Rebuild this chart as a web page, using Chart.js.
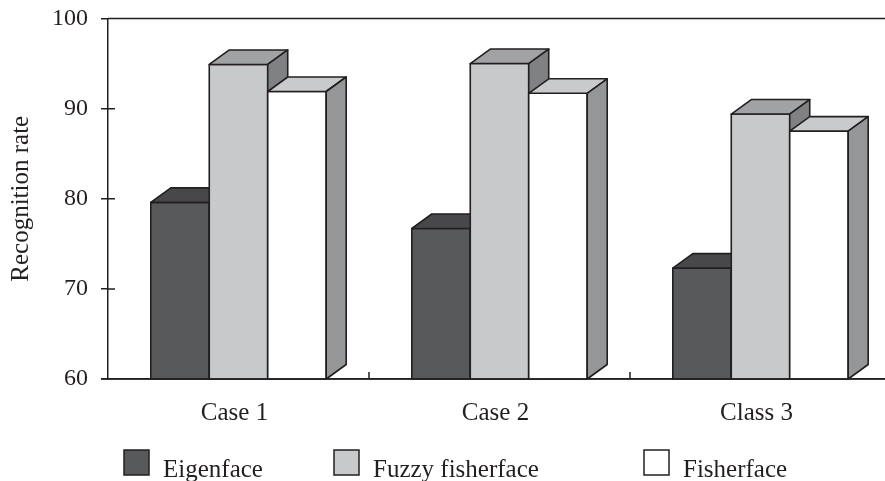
<!DOCTYPE html>
<html>
<head>
<meta charset="utf-8">
<script src="https://cdn.jsdelivr.net/npm/chart.js@4/dist/chart.umd.min.js"></script>
<style>
  html, body { margin: 0; padding: 0; background: #ffffff; overflow: hidden; }
  #wrap { position: absolute; left: 0; top: 0; width: 900px; height: 481px; }
</style>
</head>
<body>
<div id="wrap"><canvas id="c" width="900" height="481"></canvas></div>
<script>
// Categories, series and axis ticks
const categories = ['Case 1', 'Case 2', 'Class 3'];
const seriesNames = ['Eigenface', 'Fuzzy fisherface', 'Fisherface'];
const eigenface = [79.6, 76.7, 72.3];
const fuzzyFisherface = [94.9, 95.0, 89.4];
const fisherface = [91.9, 91.7, 87.5];
const yTicks = [60, 70, 80, 90, 100];

const INK = '#231f20';
const FONT = '"Liberation Serif", "Times New Roman", serif';

// Face shades for each series: front, top, side
const shades = [
  { front: '#58595b', top: '#48484a', side: '#3c3c3e' },
  { front: '#c8c9cb', top: '#a1a2a4', side: '#808183' },
  { front: '#ffffff', top: '#c9cacc', side: '#959698' }
];

// Depth of the extruded boxes
const DEPTH_X = 20;
const DEPTH_Y = 14.5;

function poly(ctx, pts, fill) {
  ctx.beginPath();
  ctx.moveTo(pts[0][0], pts[0][1]);
  for (let i = 1; i < pts.length; i++) ctx.lineTo(pts[i][0], pts[i][1]);
  ctx.closePath();
  ctx.fillStyle = fill;
  ctx.fill();
  ctx.stroke();
}

// Boxes drawn series by series, left to right, so each bar hides the
// side of the one before it. Geometry comes from the bar elements.
const boxes = {
  id: 'boxes',
  afterDatasetsDraw(chart) {
    const ctx = chart.ctx;
    const floor = chart.chartArea.bottom;
    ctx.save();
    ctx.strokeStyle = INK;
    ctx.lineWidth = 1.6;
    ctx.lineJoin = 'round';
    chart.data.datasets.forEach((ds, di) => {
      const shade = shades[di];
      chart.getDatasetMeta(di).data.forEach(el => {
        const p = el.getProps(['x', 'y', 'base', 'width'], true);
        const l = p.x - p.width / 2, r = p.x + p.width / 2;
        const b = Math.min(p.base, floor);
        poly(ctx, [[l, p.y], [r, p.y], [r, b], [l, b]], shade.front);
        poly(ctx, [[l, p.y], [r, p.y], [r + DEPTH_X, p.y - DEPTH_Y], [l + DEPTH_X, p.y - DEPTH_Y]], shade.top);
        poly(ctx, [[r, p.y], [r + DEPTH_X, p.y - DEPTH_Y], [r + DEPTH_X, b - DEPTH_Y], [r, b]], shade.side);
      });
    });
    ctx.restore();
  }
};

// Frame details: top rule, inner half of the value ticks, category dividers, legend
const frame = {
  id: 'frame',
  afterDraw(chart) {
    const ctx = chart.ctx;
    const area = chart.chartArea;
    const ys = chart.scales.y, xs = chart.scales.x;
    ctx.save();
    ctx.strokeStyle = INK;
    ctx.lineWidth = 1.5;
    ctx.beginPath();
    ctx.moveTo(area.left, area.top);
    ctx.lineTo(area.right, area.top);
    ctx.moveTo(area.left - 7, area.bottom);
    ctx.lineTo(area.right, area.bottom);
    ys.ticks.forEach(t => {
      const py = ys.getPixelForValue(t.value);
      ctx.moveTo(area.left, py);
      ctx.lineTo(area.left + 7, py);
    });
    for (let i = 0; i < categories.length - 1; i++) {
      const px = (xs.getPixelForValue(i) + xs.getPixelForValue(i + 1)) / 2;
      ctx.moveTo(px, area.bottom);
      ctx.lineTo(px, area.bottom - 7);
    }
    ctx.stroke();

    // legend
    const legendX = [124, 334, 644];
    const boxTop = 450, boxSize = 25;
    ctx.font = '25px ' + FONT;
    ctx.textBaseline = 'alphabetic';
    ctx.textAlign = 'left';
    chart.data.datasets.forEach((ds, i) => {
      const bx = legendX[i];
      ctx.fillStyle = shades[i].front;
      ctx.fillRect(bx, boxTop, boxSize, boxSize);
      ctx.lineWidth = 1.5;
      ctx.strokeRect(bx, boxTop, boxSize, boxSize);
      ctx.fillStyle = INK;
      ctx.fillText(ds.label, bx + 39, boxTop + 27);
    });
    ctx.restore();
  }
};

const seriesValues = [eigenface, fuzzyFisherface, fisherface];

new Chart(document.getElementById('c'), {
  type: 'bar',
  data: {
    labels: categories,
    datasets: seriesNames.map((name, i) => ({
      label: name,
      data: seriesValues[i],
      backgroundColor: 'rgba(0,0,0,0)',
      borderWidth: 0,
      categoryPercentage: 0.672,
      barPercentage: 1.0
    }))
  },
  options: {
    responsive: false,
    animation: false,
    devicePixelRatio: 1,
    layout: { padding: { top: 18.5, right: 9, bottom: 0, left: 0 } },
    plugins: {
      legend: { display: false },
      tooltip: { enabled: false }
    },
    scales: {
      x: {
        grid: { display: false },
        border: { display: true, color: INK, width: 1.5 },
        ticks: { color: INK, font: { family: FONT, size: 25 }, padding: 11, labelOffset: -4 },
        afterFit(scale) { scale.height = 102; scale.paddingLeft = 0; scale.paddingRight = 0; }
      },
      y: {
        min: 60,
        max: 100,
        afterBuildTicks(scale) { scale.ticks = yTicks.map(v => ({ value: v })); },
        grid: { display: true, drawOnChartArea: false, drawTicks: true, tickLength: 7, color: INK, lineWidth: 1.5 },
        border: { display: true, color: INK, width: 1.5 },
        ticks: { color: INK, font: { family: FONT, size: 24 }, padding: 13 },
        title: {
          display: true,
          text: 'Recognition rate',
          color: INK,
          font: { family: FONT, size: 25 },
          padding: { top: 6, bottom: 0 }
        },
        afterFit(scale) { scale.width = 108; scale.paddingTop = 0; scale.paddingBottom = 0; }
      }
    }
  },
  plugins: [boxes, frame]
});
</script>
</body>
</html>
